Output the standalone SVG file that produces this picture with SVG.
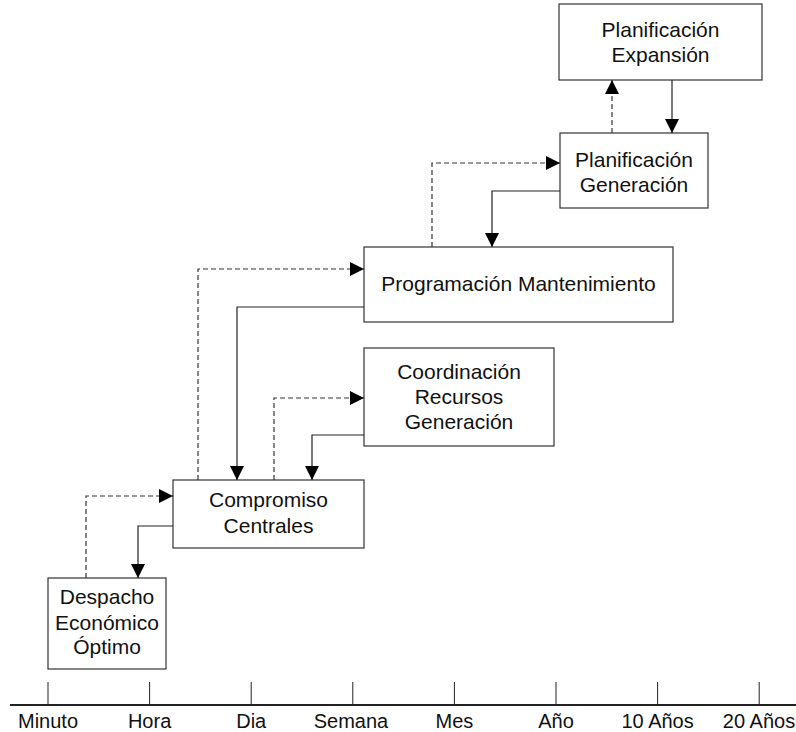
<svg xmlns="http://www.w3.org/2000/svg" width="796" height="732" viewBox="0 0 796 732">
  <style>
    .box { fill: #ffffff; stroke: #333333; stroke-width: 1.2; }
    .lbl { font-family: "Liberation Sans", Arial, sans-serif; font-size: 21px; fill: #111111; text-anchor: middle; }
    .tl { font-family: "Liberation Sans", Arial, sans-serif; font-size: 20px; fill: #111111; text-anchor: middle; }
    .solid { fill: none; stroke: #222222; stroke-width: 1.2; marker-end: url(#arrow); }
    .dash { fill: none; stroke: #333333; stroke-width: 1.2; stroke-dasharray: 5 3; marker-end: url(#arrow); }
    .axis { stroke: #222222; fill: none; }
  </style>
  <defs>
    <marker id="arrow" markerUnits="userSpaceOnUse" markerWidth="15" markerHeight="14" refX="14" refY="7" orient="auto">
      <path d="M0,0 L14,7 L0,14 z" fill="#000000"/>
    </marker>
  </defs>
  <rect width="796" height="732" fill="#ffffff"/>

  <!-- planning horizon boxes -->
  <g id="planificacion-expansion">
    <rect class="box" x="559" y="4" width="203" height="76"/>
    <text class="lbl" x="660.5" y="37">Planificación</text>
    <text class="lbl" x="660.5" y="62">Expansión</text>
  </g>
  <g id="planificacion-generacion">
    <rect class="box" x="560" y="133" width="148" height="75"/>
    <text class="lbl" x="634" y="167">Planificación</text>
    <text class="lbl" x="634" y="192">Generación</text>
  </g>
  <g id="programacion-mantenimiento">
    <rect class="box" x="364" y="247" width="309" height="75"/>
    <text class="lbl" x="518.5" y="291">Programación Mantenimiento</text>
  </g>
  <g id="coordinacion-recursos">
    <rect class="box" x="364" y="348" width="190" height="98"/>
    <text class="lbl" x="459" y="379">Coordinación</text>
    <text class="lbl" x="459" y="404">Recursos</text>
    <text class="lbl" x="459" y="429">Generación</text>
  </g>
  <g id="compromiso-centrales">
    <rect class="box" x="173" y="480" width="191" height="68"/>
    <text class="lbl" x="268.5" y="507">Compromiso</text>
    <text class="lbl" x="268.5" y="533">Centrales</text>
  </g>
  <g id="despacho-economico">
    <rect class="box" x="48" y="578" width="118" height="91"/>
    <text class="lbl" x="107" y="604">Despacho</text>
    <text class="lbl" x="107" y="630">Económico</text>
    <text class="lbl" x="107" y="654">Óptimo</text>
  </g>

  <!-- information flow between levels -->
  <g id="connectors">
    <path class="dash" d="M86,578 V496 H173"/>
    <path class="solid" d="M173,526 H138 V578"/>
    <path class="dash" d="M198,480 V269 H364"/>
    <path class="solid" d="M364,307 H237 V480"/>
    <path class="dash" d="M274,480 V398 H364"/>
    <path class="solid" d="M364,435 H312 V480"/>
    <path class="dash" d="M432,247 V163 H560"/>
    <path class="solid" d="M560,191 H492 V247"/>
    <path class="dash" d="M612,133 V80"/>
    <path class="solid" d="M672,80 V133"/>
  </g>

  <!-- time scale -->
  <g id="timeline">
    <line class="axis" x1="10" y1="705" x2="796" y2="705" stroke-width="2"/>
    <g class="axis" stroke-width="1">
      <line x1="48" y1="682" x2="48" y2="705"/>
      <line x1="149.6" y1="682" x2="149.6" y2="705"/>
      <line x1="251.2" y1="682" x2="251.2" y2="705"/>
      <line x1="352.8" y1="682" x2="352.8" y2="705"/>
      <line x1="454.4" y1="682" x2="454.4" y2="705"/>
      <line x1="556" y1="682" x2="556" y2="705"/>
      <line x1="657.6" y1="682" x2="657.6" y2="705"/>
      <line x1="759.2" y1="682" x2="759.2" y2="705"/>
    </g>
    <text class="tl" x="48" y="728">Minuto</text>
    <text class="tl" x="149.6" y="728">Hora</text>
    <text class="tl" x="251.2" y="728">Dia</text>
    <text class="tl" x="351" y="728">Semana</text>
    <text class="tl" x="454.4" y="728">Mes</text>
    <text class="tl" x="556" y="728">Año</text>
    <text class="tl" x="657.6" y="728">10 Años</text>
    <text class="tl" x="759" y="728">20 Años</text>
  </g>
</svg>
